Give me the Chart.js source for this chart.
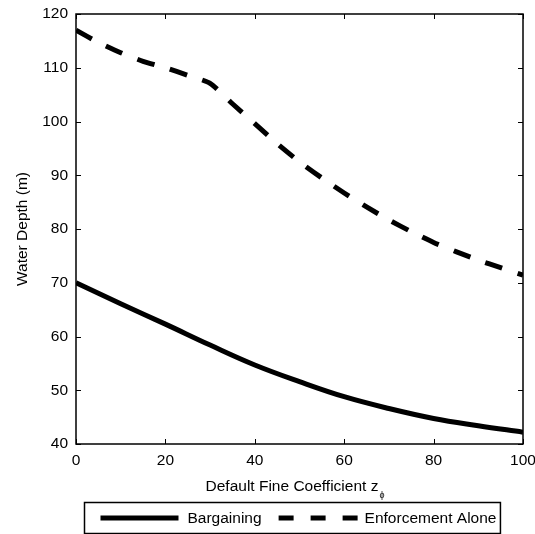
<!DOCTYPE html>
<html>
<head>
<meta charset="utf-8">
<script src="https://cdn.jsdelivr.net/npm/chart.js@4/dist/chart.umd.min.js"></script>
<style>
  html, body { margin: 0; padding: 0; background: #fff; }
  canvas { display: block; }
</style>
</head>
<body>
<canvas id="myChart" width="535" height="534"></canvas>
<script>
// values
var xBargaining = [0, 10, 20, 30, 40, 50, 60, 70, 80, 90, 100];
var bargaining = [70, 66.1, 62.3, 58.4, 54.7, 51.6, 48.8, 46.6, 44.75, 43.4, 42.2];

var xEnforcement = [0, 5, 10, 15, 20, 25, 30, 35, 40, 45, 50, 55, 60, 65, 70, 75, 80, 85, 90, 95, 100];
var enforcement = [117, 114.7, 112.8, 111.2, 110.0, 108.6, 107.1, 103.3, 99.6, 95.9, 92.5, 89.5, 86.7, 84.1, 81.7, 79.5, 77.5, 75.8, 74.2, 72.8, 71.4];

var seriesNames = ['Bargaining', 'Enforcement Alone'];
var xTicks = [0, 20, 40, 60, 80, 100];
var yTicks = [40, 50, 60, 70, 80, 90, 100, 110, 120];

var FONT = '"Liberation Sans", Arial, Helvetica, sans-serif';
var FS = 15.5;

function pairs(xs, ys) {
    return xs.map(function (x, i) { return { x: x, y: ys[i] }; });
}

// box, inward ticks, axis titles and the boxed legend, matlab style
var frame = {
    id: 'frame',
    afterDraw: function (chart) {
        var ctx = chart.ctx;
        var a = chart.chartArea;
        var xs = chart.scales.x, ys = chart.scales.y;
        var tl = 5;

        ctx.save();
        ctx.strokeStyle = '#000';
        ctx.lineWidth = 1.5;
        ctx.strokeRect(a.left, a.top, a.right - a.left, a.bottom - a.top);

        ctx.lineWidth = 1;
        ctx.beginPath();
        xTicks.forEach(function (v) {
            var px = Math.round(xs.getPixelForValue(v)) + 0.5;
            ctx.moveTo(px, a.bottom); ctx.lineTo(px, a.bottom - tl);
            ctx.moveTo(px, a.top); ctx.lineTo(px, a.top + tl);
        });
        yTicks.forEach(function (v) {
            var py = Math.round(ys.getPixelForValue(v)) + 0.5;
            ctx.moveTo(a.left, py); ctx.lineTo(a.left + tl, py);
            ctx.moveTo(a.right, py); ctx.lineTo(a.right - tl, py);
        });
        ctx.stroke();

        // x title with subscript phi
        ctx.fillStyle = '#000';
        ctx.textBaseline = 'alphabetic';
        var main = 'Default Fine Coefficient z';
        ctx.font = '9px ' + FONT;
        var subW = ctx.measureText('\u03d5').width;
        ctx.font = FS + 'px ' + FONT;
        var mainW = ctx.measureText(main).width;
        var cx = (a.left + a.right) / 2 - 5;
        var tx = cx - (mainW + subW) / 2;
        ctx.textAlign = 'left';
        ctx.fillText(main, tx, 491);
        ctx.font = '9px ' + FONT;
        ctx.fillText('\u03d5', tx + mainW + 1, 498);

        // y title
        ctx.font = FS + 'px ' + FONT;
        ctx.save();
        ctx.translate(27, (a.top + a.bottom) / 2);
        ctx.rotate(-Math.PI / 2);
        ctx.textAlign = 'center';
        ctx.fillText('Water Depth (m)', 0, 0);
        ctx.restore();

        // legend
        var ds = chart.data.datasets;
        var w0 = ctx.measureText(ds[0].label).width;
        var w1 = ctx.measureText(ds[1].label).width;
        var sample = 78;
        var boxW = 16 + sample + 9 + w0 + 17 + sample + 8 + w1 + 4;
        var bx = Math.round(292 - boxW / 2) + 0.5;
        var by = 502.5, bh = 31;
        ctx.lineWidth = 1.5;
        ctx.strokeRect(bx, by, boxW, bh);
        var ly = by + bh / 2;
        var x = bx + 16;
        ctx.lineWidth = 5;
        ctx.lineCap = 'butt';
        ctx.beginPath();
        ctx.moveTo(x, ly); ctx.lineTo(x + sample, ly);
        ctx.stroke();
        x += sample + 9;
        ctx.textAlign = 'left';
        ctx.textBaseline = 'middle';
        ctx.fillText(ds[0].label, x, ly + 1);
        x += w0 + 17;
        ctx.setLineDash([15, 17]);
        ctx.beginPath();
        ctx.moveTo(x, ly); ctx.lineTo(x + sample + 1, ly);
        ctx.stroke();
        ctx.setLineDash([]);
        x += sample + 8;
        ctx.fillText(ds[1].label, x, ly + 1);
        ctx.restore();
    }
};

function noPad(s) {
    s.paddingLeft = 0; s.paddingRight = 0;
    s.paddingTop = 0; s.paddingBottom = 0;
}

var ctx = document.getElementById('myChart').getContext('2d');
var myChart = new Chart(ctx, {
    type: 'line',
    data: {
        datasets: [{
            label: seriesNames[0],
            data: pairs(xBargaining, bargaining),
            borderColor: '#000',
            borderWidth: 5,
            pointRadius: 0,
            tension: 0.4,
            fill: false
        }, {
            label: seriesNames[1],
            data: pairs(xEnforcement, enforcement),
            borderColor: '#000',
            borderWidth: 5,
            borderDash: [18, 16],
            borderCapStyle: 'butt',
            pointRadius: 0,
            tension: 0.2,
            fill: false
        }]
    },
    options: {
        responsive: false,
        animation: false,
        devicePixelRatio: 1,
        layout: { padding: { left: 0, right: 12, top: 14, bottom: 0 } },
        plugins: {
            legend: { display: false },
            tooltip: { enabled: false }
        },
        scales: {
            x: {
                type: 'linear',
                min: 0,
                max: 100,
                afterFit: function (s) { s.height = 90; noPad(s); },
                afterBuildTicks: function (s) { s.ticks = xTicks.map(function (v) { return { value: v }; }); },
                grid: { display: false, drawTicks: false },
                border: { display: false },
                ticks: {
                    color: '#000',
                    padding: 7,
                    maxRotation: 0,
                    font: { family: FONT, size: FS }
                }
            },
            y: {
                min: 40,
                max: 120,
                afterFit: function (s) { s.width = 76; noPad(s); },
                afterBuildTicks: function (s) { s.ticks = yTicks.map(function (v) { return { value: v }; }); },
                grid: { display: false, drawTicks: false },
                border: { display: false },
                ticks: {
                    color: '#000',
                    padding: 8,
                    font: { family: FONT, size: FS }
                }
            }
        }
    },
    plugins: [frame]
});
</script>
</body>
</html>
